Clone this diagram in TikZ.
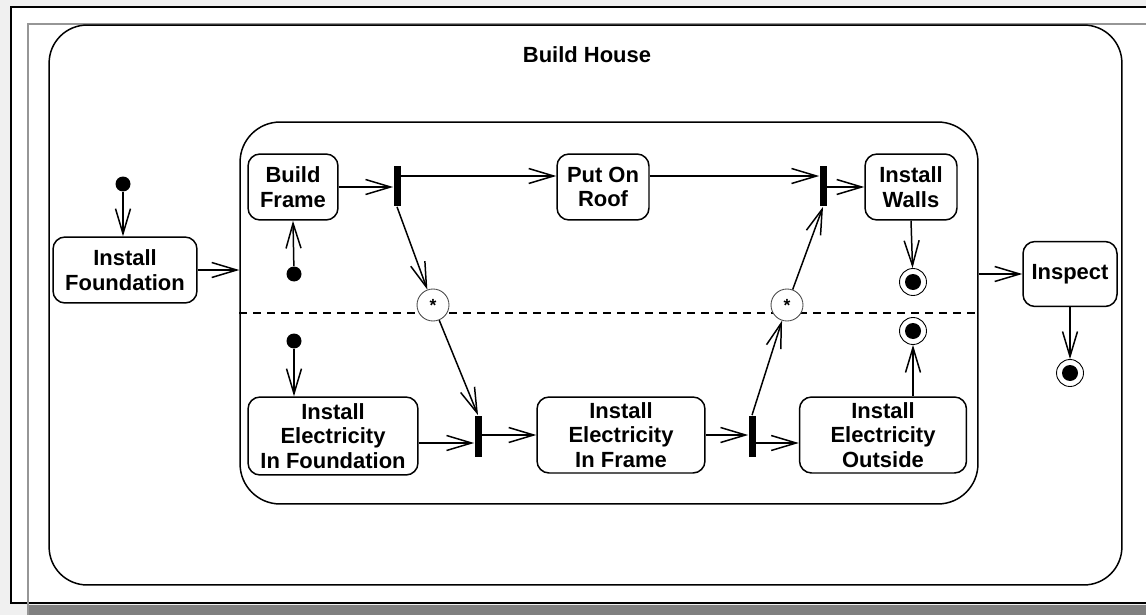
\documentclass[tikz,border=0pt]{standalone}
\usepackage{fontspec}
\setmainfont{Liberation Sans}
\usetikzlibrary{arrows.meta}

\definecolor{bgcol}{RGB}{240,240,240}
\definecolor{shadecol}{RGB}{128,128,128}
\definecolor{rulecol}{RGB}{150,150,150}

\begin{document}
\begin{tikzpicture}[x=0.02cm, y=-0.02cm,
    lbl/.style={font=\bfseries\fontsize{12.5}{14}\selectfont},
    act/.style={lbl, draw, line width=0.85pt, rounded corners=0.24cm, align=center, inner sep=1pt},
    container/.style={draw, line width=0.85pt, inner sep=0pt},
    bar/.style={fill=black, minimum width=0.14cm, minimum height=0.82cm, inner sep=0pt},
    startdot/.style={circle, fill=black, minimum size=0.3cm, inner sep=0pt},
    enddot/.style={circle, draw, line width=0.5pt, minimum size=0.54cm, inner sep=0pt,
        path picture={\fill (path picture bounding box.center) circle (0.16cm);}},
    sync/.style={circle, draw=black!70, line width=0.5pt, minimum size=0.64cm, inner sep=0pt,
        fill=white, font=\bfseries},
    arr/.style={-{Straight Barb[length=5mm,width=3mm]}, line width=0.85pt}]

    % --- Window frame ---
    \useasboundingbox (0,0) rectangle (1146,615);
    \fill[bgcol] (0,0) rectangle (1146,615);
    \fill[shadecol] (28,605) rectangle (1146,615);
    \fill[white] (11,7) rectangle (1146,603);
    \draw[line width=1.2pt] (1146,7) -- (11,7) -- (11,603) -- (1146,603);
    \draw[rulecol, line width=0.8pt] (1146,24) -- (28,24) -- (28,615);

    % --- Containers ---
    \node[container, rounded corners=0.76cm, minimum width=21.46cm, minimum height=11.2cm] (house) at (585.5,305) {};
    \node[lbl] (title) at (587,55) {Build House};
    \node[container, rounded corners=0.8cm, minimum width=14.76cm, minimum height=7.64cm] (build) at (609,313) {};
    % region separator
    \draw[line width=0.85pt, dash pattern=on 0.16cm off 0.12cm] (build.west) -- (build.east);

    % --- Activities ---
    \node[act, minimum width=2.88cm, minimum height=1.32cm] (found) at (125,270) {Install\\Foundation};
    \node[act, minimum width=1.8cm, minimum height=1.32cm] (frame) at (293,187) {Build\\Frame};
    \node[act, minimum width=1.84cm, minimum height=1.32cm] (roof) at (603,187) {Put On\\Roof};
    \node[act, minimum width=1.84cm, minimum height=1.32cm] (walls) at (911,187) {Install\\Walls};
    \node[act, minimum width=3.4cm, minimum height=1.56cm] (elfound) at (333,436) {Install\\Electricity\\In Foundation};
    \node[act, minimum width=3.36cm, minimum height=1.52cm] (elframe) at (621,435) {Install\\Electricity\\In Frame};
    \node[act, minimum width=3.34cm, minimum height=1.52cm] (elout) at (883,435) {Install\\Electricity\\Outside};
    \node[act, minimum width=1.88cm, minimum height=1.3cm] (inspect) at (1070,274) {Inspect};

    % --- Fork / join bars ---
    \node[bar] (bar1) at (397,186) {};
    \node[bar] (bar2) at (823,186) {};
    \node[bar] (bar3) at (478,436) {};
    \node[bar] (bar4) at (752,436) {};

    % --- Synch states ---
    \node[sync] (sync1) at (433,305) {*};
    \node[sync] (sync2) at (787,305) {*};

    % --- Initial and final states ---
    \node[startdot] (start0) at (123,184) {};
    \node[startdot] (start1) at (294,274) {};
    \node[startdot] (start2) at (294,341) {};
    \node[enddot] (end1) at (913,282) {};
    \node[enddot] (end2) at (913,331) {};
    \node[enddot] (end3) at (1070,373) {};

    % --- Transitions ---
    \draw[arr] (start0) -- (start0 |- found.north);
    \draw[arr] (found.east) -- (found.east -| build.west);
    \draw[arr] (start1) -- (frame.south);
    \draw[arr] (frame.east) -- (frame.east -| bar1.west);
    \coordinate (roofin) at ([yshift=0.22cm]roof.west);
    \coordinate (roofout) at ([yshift=0.22cm]roof.east);
    \draw[arr] (bar1.east |- roofin) -- (roofin);
    \draw[arr] (roofout) -- (roofout -| bar2.west);
    \draw[arr] (bar2.east |- walls.west) -- (walls.west);
    \draw[arr] (walls.south) -- (end1);

    \draw[arr] (bar1.south) -- (sync1);
    \draw[arr] (sync1) -- (bar3.north);
    \draw[arr] (bar4.north) -- (sync2);
    \draw[arr] (sync2) -- (bar2.south);

    \draw[arr] (start2) -- (start2 |- elfound.north);
    \coordinate (elfoundout) at ([yshift=-0.14cm]elfound.east);
    \draw[arr] (elfoundout) -- (elfoundout -| bar3.west);
    \draw[arr] (bar3.east |- elframe.west) -- (elframe.west);
    \draw[arr] (elframe.east) -- (elframe.east -| bar4.west);
    \coordinate (eloutin) at ([yshift=-0.16cm]elout.west);
    \draw[arr] (bar4.east |- eloutin) -- (eloutin);
    \draw[arr] (elout.north -| end2) -- (end2);

    \draw[arr] (inspect.west -| build.east) -- (inspect.west);
    \draw[arr] (inspect.south) -- (end3);

\end{tikzpicture}
\end{document}
